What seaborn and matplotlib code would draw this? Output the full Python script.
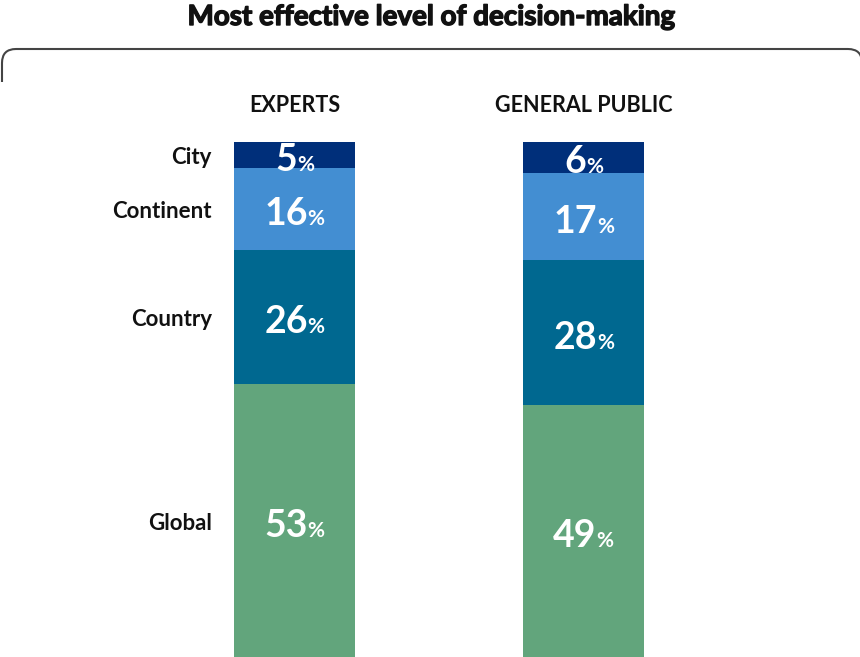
import matplotlib
matplotlib.use("Agg")
import matplotlib.pyplot as plt
import matplotlib.transforms as mtransforms
import matplotlib.patheffects as pe
from matplotlib.path import Path
from matplotlib.patches import PathPatch
import seaborn as sns
import pandas as pd
import numpy as np

groups = ["EXPERTS", "GENERAL PUBLIC"]
levels = ["Global", "Country", "Continent", "City"]  # bottom to top
values = {
    "Global": [53, 49],
    "Country": [26, 28],
    "Continent": [16, 17],
    "City": [5, 6],
}
colors = {
    "Global": "#62a57c",
    "Country": "#006890",
    "Continent": "#438ed2",
    "City": "#002f7a",
}
title = "Most effective level of decision-making"

sns.set_theme(style="white")
plt.rcParams["font.family"] = ["Lato", "DejaVu Sans"]

W, H = 860, 657
fig = plt.figure(figsize=(W / 100, H / 100), dpi=100)
ax = fig.add_axes([0, 0, 1, 515 / H])

# cumulative tops
cum = np.zeros(2)
tops = {}
bottoms = {}
for lv in levels:
    bottoms[lv] = cum.copy()
    cum = cum + np.array(values[lv])
    tops[lv] = cum.copy()

# draw from topmost cumulative down so lower segments cover upper ones
for lv in reversed(levels):
    df = pd.DataFrame({"group": groups, "top": tops[lv]})
    sns.barplot(data=df, x="group", y="top", color=colors[lv], width=0.42,
                saturation=1, linewidth=0, ax=ax, order=groups)

spacing = 289.0
x0 = 294.5
ax.set_xlim(-x0 / spacing, (W - x0) / spacing)
ax.set_ylim(0, 100)
ax.set_axis_off()

fig.canvas.draw()
renderer = fig.canvas.get_renderer()

# value labels: big number + small %
for lv in levels:
    for i in range(2):
        v = values[lv][i]
        yc = (bottoms[lv][i] + tops[lv][i]) / 2
        t1 = ax.text(0, 0, f"{v}", fontsize=27, fontweight="bold", color="white")
        t2 = ax.text(0, 0, "%", fontsize=15, fontweight="bold", color="white")
        w1 = t1.get_window_extent(renderer).width
        w2 = t2.get_window_extent(renderer).width
        total = w1 + w2
        tr1 = mtransforms.offset_copy(ax.transData, fig=fig, x=-total / 2, y=-16, units="dots")
        tr2 = mtransforms.offset_copy(ax.transData, fig=fig, x=-total / 2 + w1, y=-16, units="dots")
        t1.set_position((i, yc)); t1.set_transform(tr1)
        t1.set_ha("left"); t1.set_va("baseline")
        t2.set_position((i, yc)); t2.set_transform(tr2)
        t2.set_ha("left"); t2.set_va("baseline")

# category labels left of Experts bar
lab_tr = mtransforms.offset_copy(ax.transData, fig=fig, x=-22, y=-9, units="dots")
for lv in levels:
    yc = (bottoms[lv][0] + tops[lv][0]) / 2
    ax.text(-0.21, yc, lv, transform=lab_tr, ha="right", va="baseline",
            fontsize=16, fontweight="bold", color="#111111")

# group headers
hdr_tr = mtransforms.offset_copy(ax.transData, fig=fig, x=0, y=30, units="dots")
for i, g in enumerate(groups):
    ax.text(i, 100, g, transform=hdr_tr, ha="center", va="baseline",
            fontsize=15.5, fontweight="bold", color="#111111")

# title
fig.text(431.5 / W, 1 - 25 / H, title, ha="center", va="baseline",
         fontsize=20, fontweight="bold", color="#111111",
         path_effects=[pe.withStroke(linewidth=1.0, foreground="#111111")])

# rounded top border (pixel coords, origin bottom-left)
ytop = H - 49
ybot = H - 82
r = 14
verts = [
    (2, ybot), (2, ytop - r),
    (2, ytop), (2 + r, ytop),
    (848, ytop),
    (848 + r, ytop), (848 + r, ytop - r),
    (848 + r, ybot),
]
codes = [Path.MOVETO, Path.LINETO, Path.CURVE3, Path.CURVE3, Path.LINETO,
         Path.CURVE3, Path.CURVE3, Path.LINETO]
patch = PathPatch(Path(verts, codes), transform=None, fill=False,
                  edgecolor="#444444", linewidth=1.5)
fig.add_artist(patch)

fig.savefig("out.png", dpi=100)
